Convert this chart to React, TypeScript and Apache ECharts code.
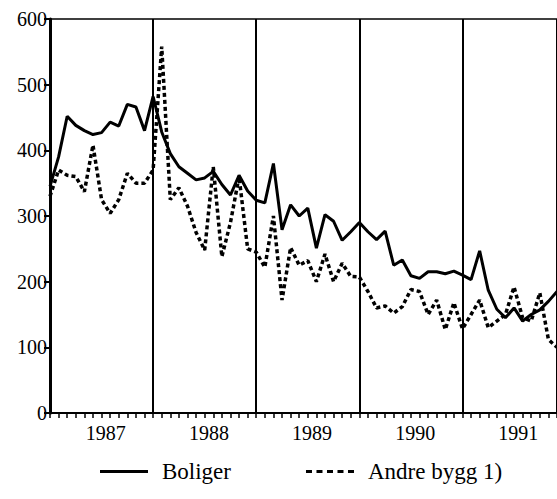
import React, { useEffect, useRef } from "react";
import * as echarts from "echarts";

const FONT = "'Liberation Serif', 'Times New Roman', serif";

const yearLabels = ["1987", "1988", "1989", "1990", "1991"];
const yearLabelPositions = [6.5, 18.5, 30.5, 42.5, 54.5];
const seriesNames = ["Boliger", "Andre bygg 1)"];

// monthly values, index 0 = first month shown
const boliger = [
  345, 390, 452, 438, 430, 424, 427, 443, 437, 470, 466, 430,
  482, 428, 395, 375, 365, 355, 358, 368, 348, 332, 362, 338,
  324, 320, 380, 279, 317, 300, 312, 251, 302, 292, 263, 276,
  290, 276, 264, 277, 225, 233, 209, 205, 215, 215, 212, 216,
  210, 203, 247, 187, 158, 145, 160, 140, 150, 157, 170, 185,
];

const andreBygg = [
  330, 370, 362, 360, 337, 408, 325, 304, 325, 365, 350, 350,
  370, 558, 325, 343, 315, 275, 248, 375, 238, 290, 360, 250,
  245, 222, 300, 172, 252, 225, 232, 200, 242, 200, 228, 208,
  207, 185, 160, 163, 152, 162, 188, 185, 150, 172, 127, 168,
  128, 150, 172, 130, 140, 150, 192, 145, 140, 183, 112, 100,
];

const SOLID_ICON = "path://M0,0H48V3H0Z";
const DOTTED_ICON =
  "path://M0,0H6V3H0ZM10.5,0H16.5V3H10.5ZM21,0H27V3H21ZM31.5,0H37.5V3H31.5ZM42,0H48V3H42Z";

export default function App() {
  const ref = useRef<HTMLDivElement>(null);

  useEffect(() => {
    if (!ref.current) return;
    const chart = echarts.init(ref.current, null, { renderer: "svg" });
    const xMax = 59;
    chart.setOption({
      animation: false,
      backgroundColor: "#fff",
      textStyle: { fontFamily: FONT },
      grid: { left: 50, right: -3, top: 19, bottom: 86, containLabel: false },
      legend: {
        left: 100,
        top: 460,
        itemWidth: 50,
        itemHeight: 3,
        itemGap: 75,
        padding: 0,
        data: [
          { name: seriesNames[0], icon: SOLID_ICON },
          { name: seriesNames[1], icon: DOTTED_ICON },
        ],
        itemStyle: { color: "#000", borderWidth: 0 },
        textStyle: {
          fontFamily: FONT,
          fontSize: 23,
          color: "#000",
          padding: [0, 0, 0, 8],
        },
      },
      xAxis: [
        {
          type: "value",
          min: 0,
          max: xMax,
          interval: 1,
          position: "bottom",
          axisLine: { show: true, onZero: false, lineStyle: { color: "#000", width: 2 } },
          axisTick: { show: true, length: 5, lineStyle: { color: "#000", width: 1.5 } },
          axisLabel: {
            customValues: yearLabelPositions,
            formatter: (v: number) => {
              const idx = yearLabelPositions.findIndex((p) => Math.abs(p - v) < 0.01);
              return idx >= 0 ? yearLabels[idx] : "";
            },
            color: "#000",
            fontFamily: FONT,
            fontSize: 20,
            margin: 10,
          },
          splitLine: { show: false },
        },
        {
          type: "value",
          min: 0,
          max: xMax,
          interval: 12,
          position: "top",
          axisLine: { show: true, onZero: false, lineStyle: { color: "#000", width: 1.5 } },
          axisTick: { show: false },
          axisLabel: { show: false },
          splitLine: { show: true, lineStyle: { color: "#000", width: 2 } },
        },
      ],
      yAxis: {
        type: "value",
        min: 0,
        max: 600,
        interval: 100,
        axisLine: { show: true, lineStyle: { color: "#000", width: 3 } },
        axisTick: { show: true, length: 6, lineStyle: { color: "#000", width: 2 } },
        axisLabel: { color: "#000", fontFamily: FONT, fontSize: 20, margin: 3 },
        splitLine: { show: false },
      },
      series: [
        {
          name: seriesNames[0],
          type: "line",
          xAxisIndex: 0,
          symbol: "none",
          data: boliger.map((v, i) => [i, v]),
          lineStyle: { color: "#000", width: 3 },
          itemStyle: { color: "#000" },
        },
        {
          name: seriesNames[1],
          type: "line",
          xAxisIndex: 0,
          symbol: "none",
          data: andreBygg.map((v, i) => [i, v]),
          lineStyle: { color: "#000", width: 3.5, type: [4, 3], cap: "butt" },
          itemStyle: { color: "#000" },
        },
      ],
    });
    return () => chart.dispose();
  }, []);

  return (
    <div
      ref={ref}
      style={{ position: "fixed", left: 0, top: 0, width: 557, height: 499 }}
    />
  );
}
